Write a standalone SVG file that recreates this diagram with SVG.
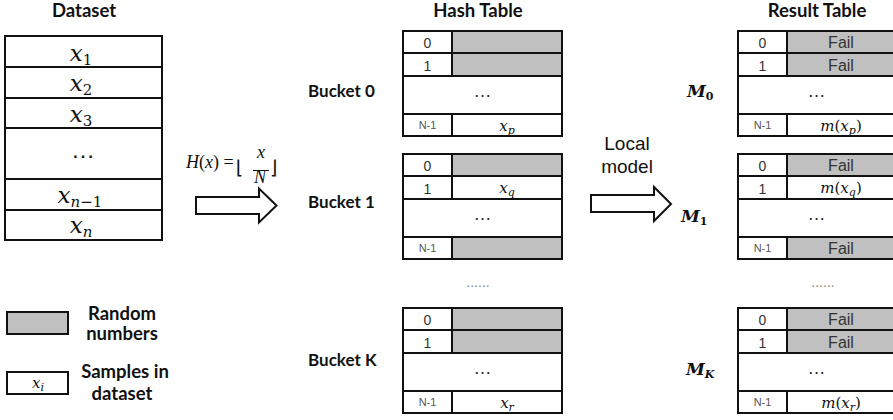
<svg xmlns="http://www.w3.org/2000/svg" xmlns:xlink="http://www.w3.org/1999/xlink" width="893" height="420" viewBox="0 0 893 420">
  <style>
    .title { font-family: Lato, "Liberation Sans", sans-serif; font-weight: bold; font-size: 18.5px; fill: #111; }
    .blabel { font-family: Lato, "Liberation Sans", sans-serif; font-weight: bold; font-size: 17px; fill: #111; }
    .leg { font-family: Lato, "Liberation Sans", sans-serif; font-weight: bold; font-size: 18.5px; fill: #111; text-anchor: middle; }
    .idx { font-family: "Liberation Sans", sans-serif; font-size: 14px; fill: #333; text-anchor: middle; }
    .idxs { font-family: "Liberation Sans", sans-serif; font-size: 11px; fill: #555; text-anchor: middle; }
    .fail { font-family: "Liberation Sans", sans-serif; font-size: 16px; fill: #333; text-anchor: middle; }
    .dots { font-family: "Liberation Sans", sans-serif; font-size: 18px; fill: #222; text-anchor: middle; }
    .dots.big { font-size: 24px; fill: #111; }
    .more { font-family: "Liberation Sans", sans-serif; font-size: 14px; fill: #888; text-anchor: middle; }
    .math { font-family: "DejaVu Serif", "Liberation Serif", serif; fill: #111; }
    .fml { font-family: "Liberation Serif", serif; font-size: 18px; fill: #111; }
    .mc { text-anchor: middle; }
    .it { font-style: italic; }
    .mlab { font-family: "DejaVu Serif", "Liberation Serif", serif; font-weight: bold; font-style: italic; font-size: 17px; fill: #111; }
    .grid { fill: none; stroke: #111; stroke-width: 2; }
    .shade { fill: #c0c0c0; }
    .blk { fill: #fff; stroke: #111; stroke-width: 2; stroke-linejoin: miter; }
    .local { font-family: "Liberation Sans", sans-serif; font-size: 19px; fill: #111; text-anchor: middle; }
  </style>
  <defs>
    <!-- table outline: index column + value column, rows 0, 1, ..., N-1 -->
    <g id="hashGrid" class="grid">
      <rect x="0" y="0" width="159" height="105"/>
      <path d="M0 22H159M0 45H159M0 83H159M49 0V45M49 83V105"/>
    </g>
    <g id="resGrid" class="grid">
      <rect x="0" y="0" width="157" height="105"/>
      <path d="M0 22H157M0 45H157M0 83H157M49 0V45M49 83V105"/>
    </g>
    <g id="idxCol">
      <text class="idx" x="24.5" y="17">0</text>
      <text class="idx" x="24.5" y="39.5">1</text>
      <text class="idxs" x="24.5" y="98">N-1</text>
    </g>
  </defs>

  <!-- column titles -->
  <text class="title" x="84" y="17" text-anchor="middle">Dataset</text>
  <text class="title" x="478" y="17" text-anchor="middle">Hash Table</text>
  <text class="title" x="817" y="17" text-anchor="middle">Result Table</text>

  <!-- dataset column -->
  <g id="dataset">
    <rect class="grid" x="5" y="36" width="157" height="204"/>
    <path class="grid" d="M5 67H162M5 98H162M5 128H162M5 179H162M5 210H162"/>
    <text class="math mc" x="81" y="61" font-size="23"><tspan class="it">x</tspan><tspan font-size="15" dy="4">1</tspan></text>
    <text class="math mc" x="81" y="91" font-size="23"><tspan class="it">x</tspan><tspan font-size="15" dy="4">2</tspan></text>
    <text class="math mc" x="81" y="122" font-size="23"><tspan class="it">x</tspan><tspan font-size="15" dy="4">3</tspan></text>
    <text class="dots big" x="83" y="158">…</text>
    <text class="math mc" x="80" y="203" font-size="23"><tspan class="it">x</tspan><tspan font-size="15" dy="4"><tspan class="it">n</tspan>−1</tspan></text>
    <text class="math mc" x="81" y="233" font-size="23"><tspan class="it">x</tspan><tspan font-size="15" dy="4" class="it">n</tspan></text>
  </g>

  <!-- hash function label -->
  <g id="hashFn" class="fml">
    <text x="186" y="168"><tspan class="it">H</tspan>(<tspan class="it">x</tspan>) =</text>
    <text x="236" y="174" font-family="DejaVu Sans, sans-serif" font-size="19">⌊</text>
    <text class="mc it" x="261" y="158">x</text>
    <path d="M253 170.5H269" stroke="#111" stroke-width="1"/>
    <text class="mc it" x="260" y="183">N</text>
    <text x="270" y="174" font-family="DejaVu Sans, sans-serif" font-size="19">⌋</text>
  </g>

  <!-- bucket labels -->
  <text class="blabel" x="308" y="97">Bucket 0</text>
  <text class="blabel" x="308" y="208">Bucket 1</text>
  <text class="blabel" x="308" y="366">Bucket K</text>

  <!-- hash table, bucket 0 -->
  <g id="bucket0" transform="translate(403,31)">
    <rect class="shade" x="49" y="0" width="110" height="45"/>
    <use xlink:href="#hashGrid"/>
    <use xlink:href="#idxCol"/>
    <text class="dots" x="79.5" y="66">…</text>
    <text class="math mc" x="104" y="100" font-size="15"><tspan class="it">x</tspan><tspan font-size="11" dy="3" class="it">p</tspan></text>
  </g>

  <!-- hash table, bucket 1 -->
  <g id="bucket1" transform="translate(403,154)">
    <rect class="shade" x="49" y="0" width="110" height="22"/>
    <rect class="shade" x="49" y="83" width="110" height="22"/>
    <use xlink:href="#hashGrid"/>
    <use xlink:href="#idxCol"/>
    <text class="math mc" x="104" y="39" font-size="15"><tspan class="it">x</tspan><tspan font-size="11" dy="3" class="it">q</tspan></text>
    <text class="dots" x="79.5" y="66">…</text>
  </g>

  <text class="more" x="478" y="287">......</text>

  <!-- hash table, bucket K -->
  <g id="bucketK" transform="translate(403,308)">
    <rect class="shade" x="49" y="0" width="110" height="45"/>
    <use xlink:href="#hashGrid"/>
    <use xlink:href="#idxCol"/>
    <text class="dots" x="79.5" y="66">…</text>
    <text class="math mc" x="104" y="100" font-size="15"><tspan class="it">x</tspan><tspan font-size="11" dy="3" class="it">r</tspan></text>
  </g>

  <!-- local model arrows -->
  <g id="connectors">
    <polygon class="blk" points="196,197 259,197 259,188.5 276.5,205.5 259,222.5 259,214 196,214"/>
    <polygon class="blk" points="591,195 654,195 654,187 671,204 654,221 654,212 591,212"/>
  </g>
  <g id="localModel">
    <text class="local" x="627" y="150">Local</text>
    <text class="local" x="627" y="173">model</text>
  </g>

  <!-- model labels -->
  <text class="mlab" x="687" y="97">M<tspan font-size="11" dy="3" font-style="normal">0</tspan></text>
  <text class="mlab" x="681" y="222">M<tspan font-size="11" dy="3" font-style="normal">1</tspan></text>
  <text class="mlab" x="686" y="375">M<tspan font-size="11" dy="3">K</tspan></text>

  <!-- result table, M0 -->
  <g id="result0" transform="translate(738,31)">
    <rect class="shade" x="49" y="0" width="108" height="45"/>
    <use xlink:href="#resGrid"/>
    <use xlink:href="#idxCol"/>
    <text class="fail" x="103" y="17">Fail</text>
    <text class="fail" x="103" y="40">Fail</text>
    <text class="dots" x="78.5" y="66">…</text>
    <text class="math mc" x="103" y="100" font-size="15"><tspan class="it">m</tspan>(<tspan class="it">x</tspan><tspan font-size="11" dy="3" class="it">p</tspan><tspan dy="-3">)</tspan></text>
  </g>

  <!-- result table, M1 -->
  <g id="result1" transform="translate(738,154)">
    <rect class="shade" x="49" y="0" width="108" height="22"/>
    <rect class="shade" x="49" y="83" width="108" height="22"/>
    <use xlink:href="#resGrid"/>
    <use xlink:href="#idxCol"/>
    <text class="fail" x="103" y="17">Fail</text>
    <text class="math mc" x="103" y="39" font-size="15"><tspan class="it">m</tspan>(<tspan class="it">x</tspan><tspan font-size="11" dy="3" class="it">q</tspan><tspan dy="-3">)</tspan></text>
    <text class="dots" x="78.5" y="66">…</text>
    <text class="fail" x="103" y="100">Fail</text>
  </g>

  <text class="more" x="823" y="287">......</text>

  <!-- result table, MK -->
  <g id="resultK" transform="translate(738,308)">
    <rect class="shade" x="49" y="0" width="108" height="45"/>
    <use xlink:href="#resGrid"/>
    <use xlink:href="#idxCol"/>
    <text class="fail" x="103" y="17">Fail</text>
    <text class="fail" x="103" y="40">Fail</text>
    <text class="dots" x="78.5" y="66">…</text>
    <text class="math mc" x="103" y="100" font-size="15"><tspan class="it">m</tspan>(<tspan class="it">x</tspan><tspan font-size="11" dy="3" class="it">r</tspan><tspan dy="-3">)</tspan></text>
  </g>

  <!-- legend -->
  <g id="legendRandom">
    <rect class="shade" x="7" y="312" width="61" height="22" stroke="#111" stroke-width="2"/>
    <text class="leg" x="122" y="320">Random</text>
    <text class="leg" x="122" y="340">numbers</text>
  </g>
  <g id="legendSamples">
    <rect x="7" y="372" width="61" height="22" fill="#fff" stroke="#111" stroke-width="2"/>
    <text class="math mc" x="38" y="388" font-size="15"><tspan class="it">x</tspan><tspan font-size="11" dy="3" class="it">i</tspan></text>
    <text class="leg" x="125" y="378">Samples in</text>
    <text class="leg" x="122" y="400">dataset</text>
  </g>
</svg>
